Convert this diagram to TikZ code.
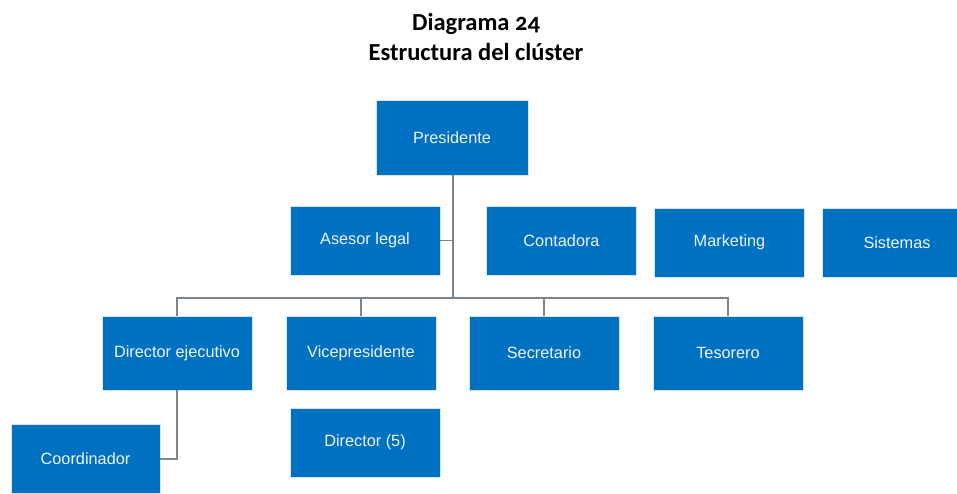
\documentclass[tikz,border=0pt]{standalone}
\usepackage{fontspec}
\setmainfont{Liberation Sans}
\newfontfamily\titlefont[Numbers=OldStyle]{Carlito}
\definecolor{boxblue}{HTML}{0070C0}
\definecolor{boxedge}{HTML}{D6E6F4}
\definecolor{linkgray}{HTML}{7C848E}
\begin{document}
\begin{tikzpicture}[x=1pt,y=-1pt,
  orgbox/.style={rectangle, fill=boxblue, draw=boxedge, line width=0.6pt,
    minimum width=150pt, minimum height=69pt, inner sep=0pt,
    text=white!93!boxblue, font=\fontsize{16.3}{19}\selectfont},
  link/.style={draw=linkgray, line width=1.6pt}]
  \useasboundingbox (0,0) rectangle (957,493);
  \clip (0,0) rectangle (957,493);

  % title
  \node[font=\titlefont\bfseries\fontsize{24.5}{30}\selectfont, align=center] (title) at (476,37)
    {Diagrama 24\\Estructura del clúster};

  % boxes
  \node[orgbox, minimum width=152pt, minimum height=75pt] (pres) at (452,137.5) {Presidente};
  \node[orgbox] (asesor) at (365,240.5) {Asesor legal};
  \node[orgbox] (conta) at (561.5,240.5) {Contadora};
  \node[orgbox] (mkt) at (729.5,242.5) {Marketing};
  \node[orgbox] (sist) at (897,242.5) {Sistemas};
  \node[orgbox, minimum height=74pt] (direj) at (177,353) {Director ejecutivo};
  \node[orgbox, minimum height=74pt] (vice) at (361,353) {Vicepresidente};
  \node[orgbox, minimum height=74pt] (secr) at (544,353) {Secretario};
  \node[orgbox, minimum height=74pt] (teso) at (728,353) {Tesorero};
  \node[orgbox] (dir5) at (365,442.5) {Director (5)};
  \node[orgbox, minimum width=149pt] (coord) at (85.5,459) {Coordinador};

  % connectors
  \coordinate (bus) at (453,298);
  \draw[link] (pres.south -| bus) -- (bus);
  \draw[link] (asesor.east) -- (asesor.east -| bus);
  \draw[link] (direj.north) |- (bus) -| (teso.north);
  \draw[link] (vice.north) -- (vice.north |- bus);
  \draw[link] (secr.north) -- (secr.north |- bus);
  \draw[link] (direj.south) |- (coord.east);
\end{tikzpicture}
\end{document}
